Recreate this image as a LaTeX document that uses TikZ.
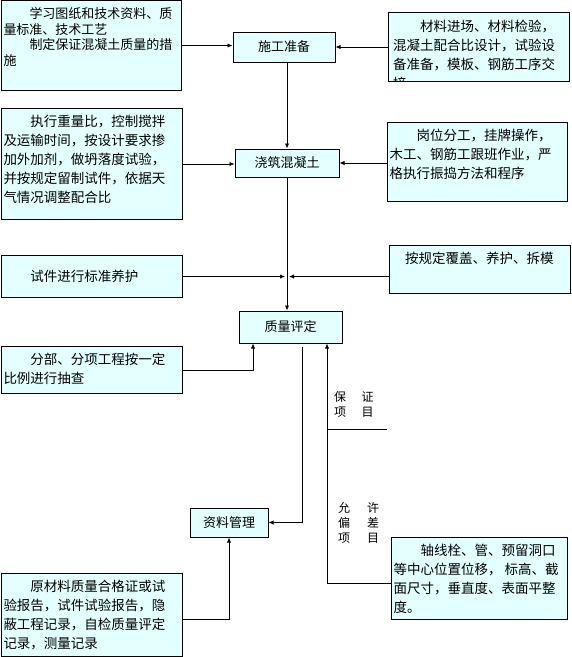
\documentclass[tikz,border=0pt]{standalone}
\usepackage{fontspec}
\setmainfont{Noto Sans CJK SC}
\usepackage{tikz}
\usetikzlibrary{arrows.meta,positioning,calc}
\definecolor{boxfill}{RGB}{228,255,255}
\newcommand{\notetext}[3]{\parbox[c][#2][t]{#1}{\vspace*{7pt}#3}}
\tikzset{
	>=Latex,
	note/.style={
		draw,
		fill=boxfill,
		line width=1pt,
		inner xsep=2pt,
		inner ysep=0pt,
		anchor=north west,
		font=\fontsize{13.5}{19}\selectfont
	},
	step box/.style={
		draw,
		fill=boxfill,
		line width=1pt,
		inner sep=0pt,
		font=\fontsize{13}{15}\selectfont
	},
	flow/.style={
		-{Latex[length=5pt,width=4.5pt]},
		line width=0.9pt
	},
	tag/.style={
		inner sep=0pt,
		anchor=north west,
		align=left,
		font=\fontsize{12}{15}\selectfont
	}
}

\begin{document}
\begin{tikzpicture}[x=1pt,y=-1pt]
	\useasboundingbox (0,0) rectangle (572,657);
	
	% --- MAIN STEPS ---
	\node[step box, minimum width=102pt, minimum height=30pt] (prep) at (284,47) {施工准备};
	\node[step box, minimum width=104pt, minimum height=28pt] (pour) at (287,163) {浇筑混凝土};
	\node[step box, minimum width=103pt, minimum height=32pt] (eval) at (290.5,327) {质量评定};
	\node[step box, minimum width=78pt, minimum height=29pt] (doc) at (229,522.5) {资料管理};
	
	% --- LEFT NOTES ---
	\node[note, font=\fontsize{13}{15.5}\selectfont] (plan) at (1,0)
	{\notetext{176pt}{90pt}{\hspace*{2em}学习图纸和技术资料、质\\量标准、技术工艺\\\hspace*{2em}制定保证混凝土质量的措\\施}};
	\node[note] (mix) at (1,108)
	{\notetext{177pt}{111pt}{\hspace*{2em}执行重量比，控制搅拌\\及运输时间，按设计要求掺\\加外加剂，做坍落度试验，\\并按规定留制试件，依据天\\气情况调整配合比}};
	\node[note] (sample) at (1,255)
	{\parbox[c][42pt][c]{177pt}{\hspace*{2em}试件进行标准养护}};
	\node[note] (part) at (1,346)
	{\notetext{177pt}{47pt}{\hspace*{2em}分部、分项工程按一定\\比例进行抽查}};
	\node[note] (rec) at (1,573)
	{\notetext{177pt}{83pt}{\hspace*{2em}原材料质量合格证或试\\验报告，试件试验报告，隐\\蔽工程记录，自检质量评定\\记录，测量记录}};
	
	% --- RIGHT NOTES ---
	% last line runs past the bottom edge and is cut off
	\node[note, minimum width=181pt, minimum height=69pt, path picture={
		\node[anchor=north west, inner sep=0pt, font=\fontsize{13.5}{19}\selectfont]
		at ([xshift=2pt]path picture bounding box.north west)
		{\notetext{177pt}{90pt}{\hspace*{2em}材料进场、材料检验，\\混凝土配合比设计，试验设\\备准备，模板、钢筋工序交\\接}};
	}] (mat) at (388,12) {};
	\node[note] (crew) at (387,122)
	{\notetext{176pt}{79pt}{\hspace*{2em}岗位分工，挂牌操作，\\木工、钢筋工跟班作业，严\\格执行振捣方法和程序}};
	\node[note] (cover) at (389,245)
	{\notetext{177pt}{48pt}{\hspace*{1em}按规定覆盖、养护、拆模}};
	\node[note] (tol) at (391,537)
	{\notetext{172pt}{82pt}{\hspace*{2em}轴线栓、管、预留洞口\\等中心位置位移，\ 标高、截\\面尺寸，垂直度、表面平整\\度。}};
	
	% --- ITEM LABELS ---
	\node[tag] (okitem) at (334,391) {保\hspace{15.5pt}证\\项\hspace{15.5pt}目};
	\node[tag] (tolitem) at (338,502) {允\hspace{17pt}许\\偏\hspace{17pt}差\\项\hspace{17pt}目};
	\coordinate (okend) at (387,429);
	
	% --- CONNECTIONS ---
	\draw[flow] (plan.east) -- (plan.east -| prep.west);
	\draw[flow] (mat.west) -- (mat.west -| prep.east);
	\draw[flow] (prep.south -| pour.north) -- (pour.north);
	\draw[flow] (mix.east) -- (mix.east -| pour.west);
	\draw[flow] (crew.west |- pour.east) -- (pour.east);
	\draw[flow] (pour.south) -- (pour.south |- eval.north);
	\draw[flow, shorten >=2pt] (sample.east) -- (sample.east -| pour.south);
	\draw[flow, shorten >=2pt] (cover.west |- sample.east) -- (sample.east -| pour.south);
	\draw[flow] (part.east) -| ([xshift=-37.5pt]eval.south);
	\draw[flow, shorten <=3pt] ([xshift=11.5pt]eval.south) |- (doc.east);
	\draw[flow] ([yshift=-4.5pt]rec.east) -| (doc.south);
	\draw[flow] ([yshift=-5pt]tol.west) -| ([xshift=36.5pt]eval.south);
	\draw[line width=0.9pt] ([xshift=36.5pt]eval.south |- okend) -- (okend);
	
\end{tikzpicture}
\end{document}
